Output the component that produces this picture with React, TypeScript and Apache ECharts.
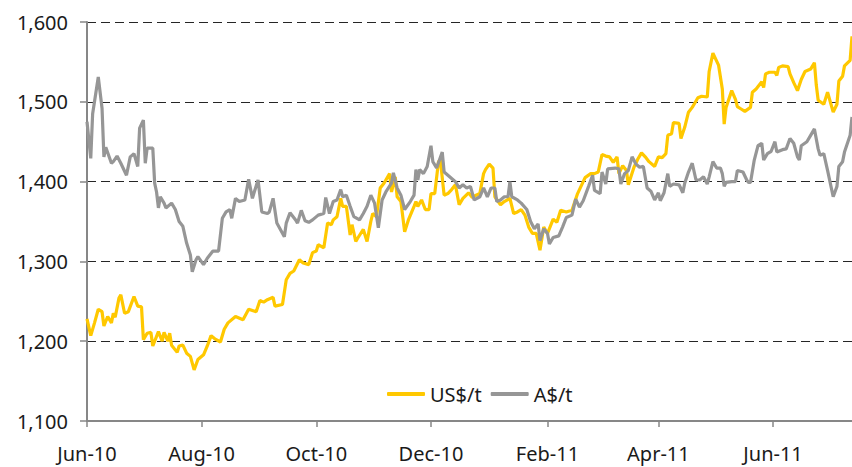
import React, { useEffect, useRef } from "react";
import * as echarts from "echarts";

// Day offsets from 1 Jun 2010 and prices
const usDays = [0,2,4,6,8,9,11,13,14,15,17,18,20,22,25,27,29,30,32,34,35,38,40,41,43,44,45,48,49,51,53,55,57,59,62,64,66,68,71,73,75,79,83,86,90,92,94,96,99,100,104,106,108,110,113,115,118,120,122,123,126,128,130,131,133,135,136,138,140,141,143,144,147,149,151,152,154,156,158,161,162,164,165,167,169,171,174,175,176,178,180,182,183,185,187,188,190,192,194,196,198,200,203,205,207,209,211,212,214,216,217,220,222,225,227,229,231,233,235,237,239,241,243,245,248,250,252,255,258,261,265,268,270,272,274,276,278,280,282,283,285,287,288,291,293,295,297,299,302,304,306,308,309,311,312,315,316,318,320,322,323,325,327,330,331,333,336,338,339,340,343,345,346,348,350,353,354,356,359,360,361,363,366,367,368,370,373,374,376,378,380,382,385,387,388,389,392,394,397,399,400,402,403,406,407];
const usValues = [1228,1207,1223,1240,1237,1219,1231,1223,1235,1230,1254,1258,1235,1237,1256,1244,1243,1202,1210,1211,1194,1212,1200,1211,1200,1210,1195,1186,1194,1195,1185,1181,1164,1177,1183,1194,1207,1203,1199,1215,1223,1231,1227,1240,1237,1251,1249,1252,1255,1244,1246,1277,1285,1288,1302,1298,1296,1311,1313,1321,1317,1348,1346,1352,1356,1379,1369,1369,1333,1346,1325,1329,1340,1325,1350,1360,1356,1392,1398,1410,1387,1406,1381,1375,1337,1352,1369,1375,1369,1377,1365,1365,1385,1385,1425,1427,1383,1385,1390,1396,1371,1379,1386,1380,1383,1385,1410,1415,1422,1417,1381,1371,1375,1379,1360,1362,1365,1358,1343,1335,1335,1314,1343,1335,1353,1349,1364,1362,1364,1385,1405,1410,1410,1412,1434,1432,1431,1424,1431,1410,1420,1414,1396,1418,1428,1436,1431,1425,1419,1431,1430,1435,1458,1460,1474,1473,1454,1468,1487,1493,1497,1505,1507,1506,1538,1561,1546,1516,1472,1493,1514,1503,1494,1491,1488,1493,1512,1516,1525,1518,1535,1537,1537,1533,1543,1545,1544,1535,1524,1514,1528,1538,1541,1549,1521,1502,1497,1512,1487,1497,1526,1532,1545,1552,1582];

const audDays = [0,2,3,6,8,9,10,13,14,16,18,21,23,25,27,28,30,31,32,35,36,37,38,39,41,42,45,47,49,51,53,55,56,58,59,62,64,67,70,72,74,76,77,79,81,84,86,88,89,91,93,96,97,99,101,105,106,108,111,112,114,116,118,120,123,126,127,129,131,133,135,136,138,140,142,145,147,149,151,153,155,157,159,162,163,165,167,169,172,174,175,176,177,179,181,183,184,186,189,190,194,196,198,200,202,204,206,209,211,213,215,217,218,220,222,224,225,226,229,231,234,236,238,240,241,243,245,246,248,251,253,255,258,260,262,264,267,269,270,273,274,276,277,281,283,284,286,288,290,292,294,296,298,300,302,304,305,307,309,310,312,315,317,318,320,322,324,326,328,330,331,333,335,337,338,339,340,343,345,346,349,351,352,353,355,357,359,360,362,364,366,367,370,372,374,376,378,379,380,383,385,387,389,390,392,394,397,399,400,402,403,406,407];
const audValues = [1475,1429,1485,1531,1492,1431,1443,1423,1425,1432,1423,1408,1431,1435,1419,1467,1477,1423,1442,1442,1398,1387,1367,1381,1373,1367,1373,1365,1350,1344,1323,1308,1287,1302,1306,1296,1304,1313,1313,1354,1362,1365,1354,1379,1375,1377,1403,1379,1387,1402,1362,1360,1362,1379,1348,1331,1348,1361,1352,1348,1364,1351,1349,1352,1358,1360,1380,1360,1375,1377,1390,1381,1383,1369,1356,1352,1360,1369,1383,1373,1342,1377,1387,1398,1411,1392,1383,1365,1375,1383,1415,1402,1415,1410,1419,1445,1425,1417,1437,1412,1404,1400,1392,1396,1392,1394,1377,1381,1392,1381,1392,1392,1375,1377,1381,1381,1400,1381,1377,1373,1365,1350,1341,1347,1326,1341,1335,1322,1330,1332,1343,1355,1358,1378,1368,1376,1395,1408,1389,1385,1412,1397,1416,1417,1416,1397,1410,1414,1431,1422,1418,1419,1392,1388,1377,1386,1376,1386,1410,1394,1397,1396,1386,1398,1412,1423,1402,1402,1406,1397,1406,1425,1417,1417,1410,1394,1399,1400,1400,1414,1412,1402,1399,1399,1427,1445,1448,1427,1435,1438,1450,1437,1440,1441,1454,1448,1431,1427,1445,1450,1458,1466,1441,1433,1435,1414,1381,1394,1419,1425,1437,1458,1481];

const seriesNames = ["US$/t", "A$/t"];
const tickLabels = ["Jun-10", "Aug-10", "Oct-10", "Dec-10", "Feb-11", "Apr-11", "Jun-11"];
const tickMonthOffsets = [0, 2, 4, 6, 8, 10, 12];
const yTicks = [1100, 1200, 1300, 1400, 1500, 1600];
const LAST_DAY = 407;

const DAY = 86400000;
const START = new Date(2010, 5, 1).getTime();
const pad = (n: number) => (n < 10 ? "0" + n : "" + n);
const dayCategories: string[] = [];
for (let d = 0; d <= LAST_DAY; d++) {
  const dt = new Date(2010, 5, 1 + d);
  dayCategories.push(dt.getFullYear() + "-" + pad(dt.getMonth() + 1) + "-" + pad(dt.getDate()));
}
const tickDayIdx = tickMonthOffsets.map((m) =>
  Math.round((new Date(2010, 5 + m, 1).getTime() - START) / DAY)
);

const FONT = "'Noto Sans', 'Open Sans', sans-serif";

export default function App() {
  const ref = useRef<HTMLDivElement>(null);
  useEffect(() => {
    if (!ref.current) return;
    const chart = echarts.init(ref.current, null, { renderer: "svg" });
    const usData = usDays.map((d, i) => [d, usValues[i]]);
    const audData = audDays.map((d, i) => [d, audValues[i]]);
    const isTick = (index: number) => tickDayIdx.indexOf(index) >= 0;
    chart.setOption({
      animation: false,
      backgroundColor: "#ffffff",
      textStyle: { fontFamily: FONT },
      grid: { left: 87, right: 0, top: 22, bottom: 46, containLabel: false },
      legend: {
        data: seriesNames,
        left: 382,
        top: 379,
        icon: "roundRect",
        itemWidth: 38,
        itemHeight: 4,
        itemGap: 9,
        textStyle: { fontSize: 20, color: "#1a1a1a", fontFamily: FONT },
      },
      xAxis: {
        type: "category",
        data: dayCategories,
        boundaryGap: false,
        axisLine: { show: true, lineStyle: { color: "#878787", width: 2 } },
        axisTick: {
          show: true,
          interval: (index: number) => isTick(index),
          length: 6,
          lineStyle: { color: "#878787", width: 1.5 },
        },
        axisLabel: {
          interval: (index: number) => isTick(index),
          formatter: (_v: string, index: number) => {
            const k = tickDayIdx.indexOf(index);
            return k >= 0 ? tickLabels[k] : "";
          },
          margin: 22,
          fontSize: 20,
          color: "#1a1a1a",
          fontFamily: FONT,
        },
        splitLine: { show: false },
      },
      yAxis: {
        type: "value",
        min: yTicks[0],
        max: yTicks[yTicks.length - 1],
        interval: 100,
        axisLine: { show: true, lineStyle: { color: "#878787", width: 2 } },
        axisTick: { show: true, length: 7, lineStyle: { color: "#878787", width: 1.5 } },
        axisLabel: {
          formatter: (v: number) => v.toLocaleString("en-US"),
          margin: 19,
          fontSize: 20,
          color: "#1a1a1a",
          fontFamily: FONT,
        },
        splitLine: {
          show: true,
          lineStyle: { color: "#262626", width: 1, type: [9, 5] },
        },
      },
      series: [
        {
          name: seriesNames[0],
          type: "line",
          data: usData,
          symbol: "none",
          color: "#FFC800",
          lineStyle: { color: "#FFC800", width: 3.2 },
        },
        {
          name: seriesNames[1],
          type: "line",
          data: audData,
          symbol: "none",
          color: "#969696",
          lineStyle: { color: "#969696", width: 3.2 },
        },
      ],
    });
    return () => chart.dispose();
  }, []);
  return (
    <div
      ref={ref}
      style={{ position: "fixed", left: 0, top: 0, width: 852, height: 467, background: "#fff" }}
    />
  );
}
